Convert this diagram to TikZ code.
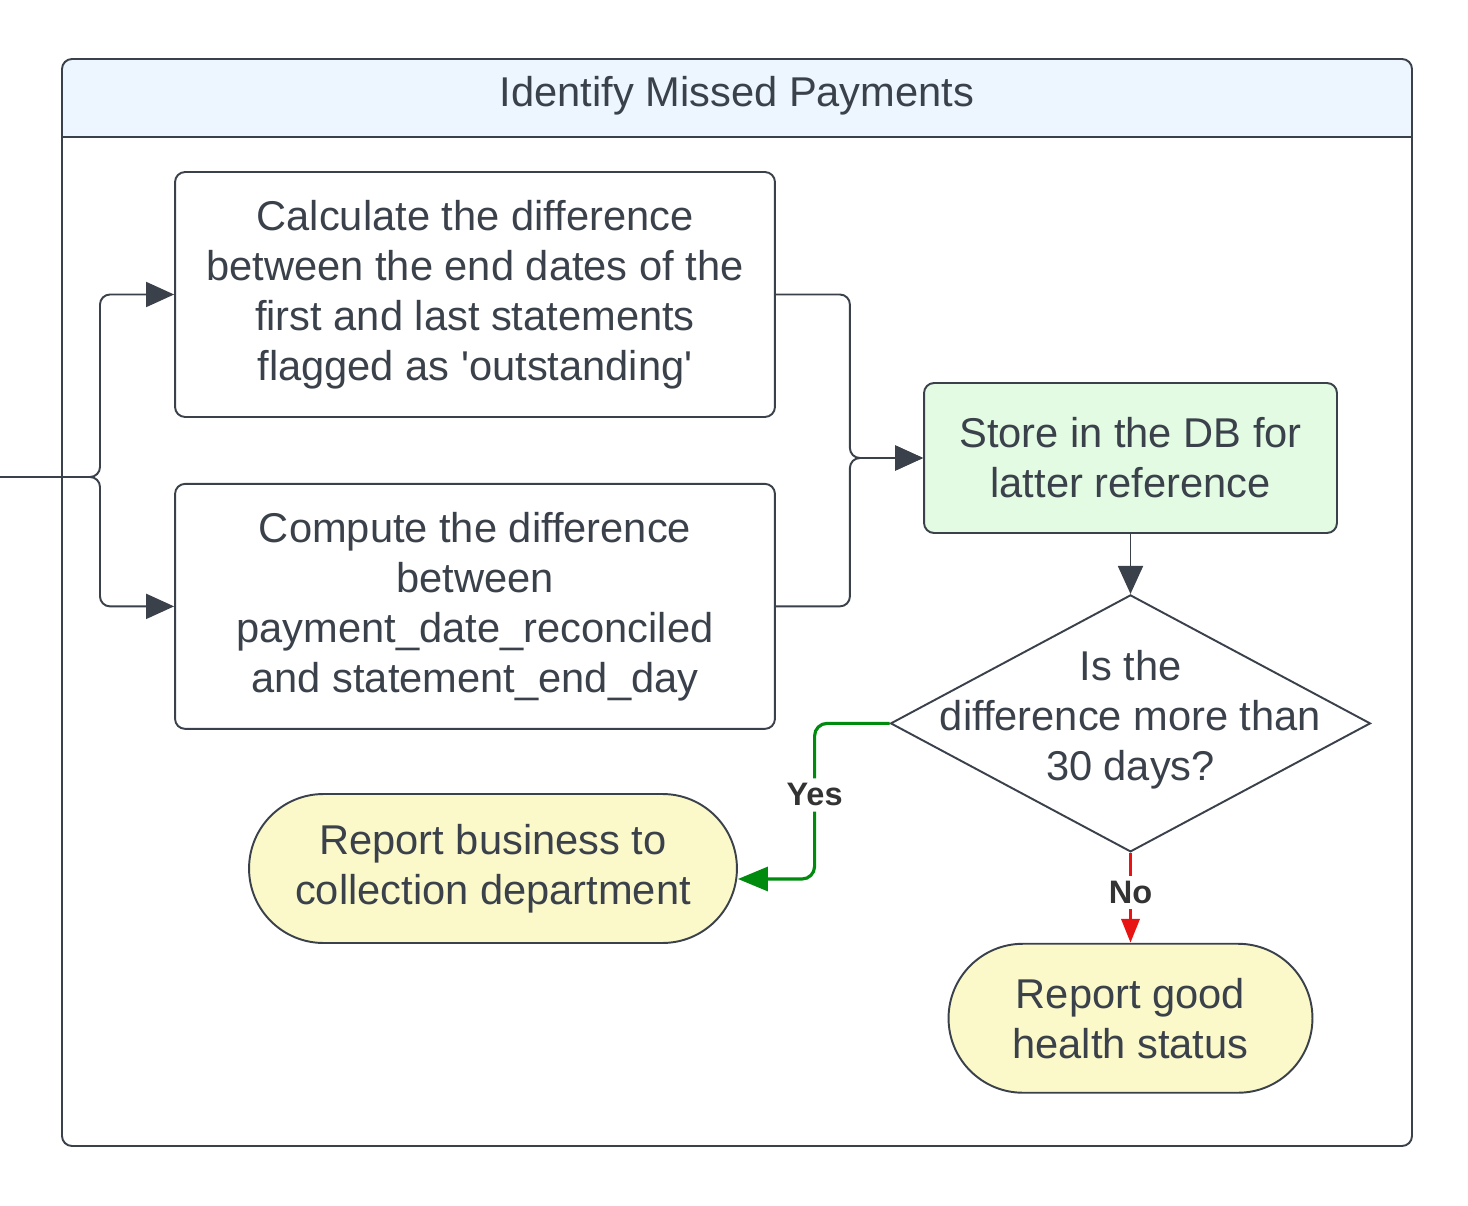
\documentclass[tikz,border=0pt]{standalone}
\usepackage{fontspec}
\setmainfont{Liberation Sans}
\usetikzlibrary{positioning, arrows.meta, shapes.geometric}
\definecolor{ink}{HTML}{3A414A}
\definecolor{laneblue}{HTML}{EDF5FF}
\definecolor{storegreen}{HTML}{E3FAE3}
\definecolor{endyellow}{HTML}{FBF9C9}
\definecolor{yesgreen}{HTML}{008A0E}
\definecolor{nored}{HTML}{E81313}
\tikzset{
	>={Triangle[length=0.56cm, width=0.5cm]}, % big filled heads
	every node/.style={text=ink, font=\fontsize{23.7}{28.45}\selectfont},
	proc/.style={draw=ink, line width=1.1pt, rounded corners=0.2cm, fill=white,
		minimum width=12cm, minimum height=4.9cm, align=center, inner sep=0pt},
	store/.style={proc, fill=storegreen, minimum width=8.26cm, minimum height=3cm},
	decision/.style={diamond, draw=ink, line width=1.1pt, fill=white,
		minimum width=9.6cm, minimum height=5.14cm, inner sep=0pt},
	terminal/.style={draw=ink, line width=1.1pt, rounded corners=1.49cm, fill=endyellow,
		minimum height=2.98cm, align=center, inner sep=0pt},
	flow/.style={->, draw=ink, line width=1.1pt, rounded corners=0.2cm},
	yesflow/.style={-{Triangle[length=0.6cm, width=0.48cm]}, draw=yesgreen, line width=1.8pt, rounded corners=0.25cm},
	noflow/.style={-{Triangle[length=0.48cm, width=0.36cm]}, draw=nored, line width=2.1pt},
	answer/.style={fill=white, inner sep=3pt, font=\fontsize{18.5}{21}\selectfont\bfseries, text=black!80},
}
\begin{document}
\begin{tikzpicture}[x=0.02cm, y=-0.02cm]
	\useasboundingbox (0,0) rectangle (1468,1206);
	% the lane with its header band
	\fill[white, rounded corners=0.2cm] (62,59) rectangle (1412,1146);
	\begin{scope}
		\clip (62,59) rectangle (1412,137);
		\fill[laneblue, rounded corners=0.2cm] (62,59) rectangle (1412,1146);
	\end{scope}
	\draw[ink, line width=1.1pt] (62,137) -- (1412,137);
	\draw[ink, line width=1.1pt, rounded corners=0.2cm] (62,59) rectangle (1412,1146);
	\node (title) at (737,96) {Identify Missed Payments};

	% the two computations
	\node[proc] (calc) at (475,294.5) {Calculate the difference\\between the end dates of the\\first and last statements\\flagged as \textquotesingle outstanding\textquotesingle};
	\node[proc, below=1.3cm of calc] (comp) {Compute the difference\\between\\payment\_date\_reconciled\\and statement\_end\_day};
	\coordinate (src) at (0,477);
	\draw[flow] (src) -- ++(100,0) |- (calc.west);
	\draw[flow] (src) -- ++(100,0) |- (comp.west);

	%% merge into the DB
	\node[store] (store) at (1130.5,458) {Store in the DB for\\latter reference};
	\draw[flow] (calc.east) -- ++(74,0) |- (store.west);
	\draw[flow] (comp.east) -- ++(74,0) |- (store.west);

	%% the check
	\node[decision, below=1.2cm of store] (dec) {};
	\node[align=center] (dectext) at ([yshift=0.07cm]dec.center) {Is the\\difference more than\\30 days?};
	\draw[flow] (store) -- (dec);

	%% outcomes
	\node[terminal, minimum width=9.76cm] (biz) at (493,868.5) {Report business to\\collection department};
	\node[terminal, minimum width=7.28cm, below=1.8cm of dec] (good) {Report good\\health status};
	\draw[yesflow] (dec.west) -- ++(-75,0) |- node[answer, pos=0.23]{Yes} ([yshift=-0.21cm]biz.east);
	\draw[noflow] (dec.south) -- node[answer, pos=0.44]{No} (good.north);
\end{tikzpicture}
\end{document}
